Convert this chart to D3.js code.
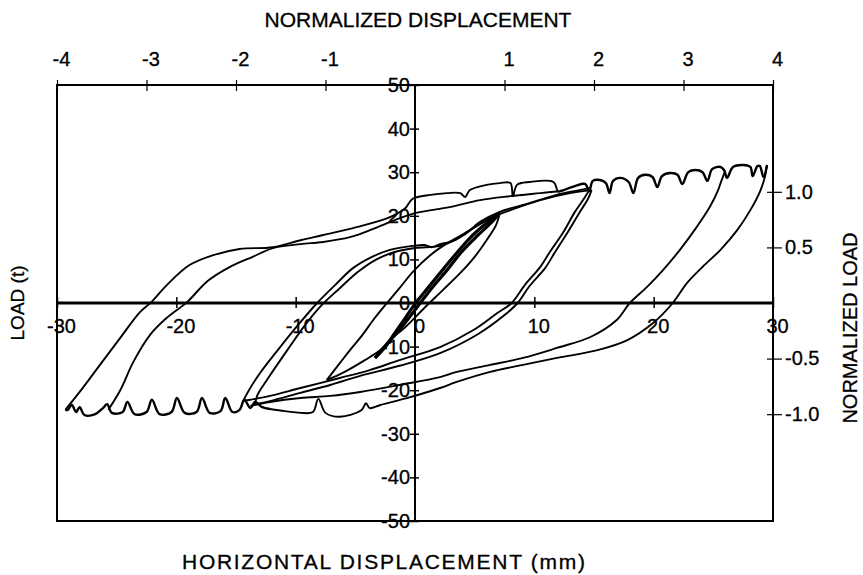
<!DOCTYPE html>
<html>
<head>
<meta charset="utf-8">
<script src="https://cdn.jsdelivr.net/npm/d3@7"></script>
<style>
  body { margin: 0; background: #fff; }
  text { font-family: "Liberation Sans", Arial, sans-serif; fill: #000; stroke: #000; stroke-width: 0.3px; }
</style>
</head>
<body>
<div id="chart"></div>
<script>
// tick values
var dispTicks = [-30, -20, -10, 0, 10, 20, 30];
var loadTicks = [50, 40, 30, 20, 10, 0, -10, -20, -30, -40, -50];
var normDispTicks = [-4, -3, -2, -1, 1, 2, 3, 4];
var normLoadTicks = [1.0, 0.5, -0.5, -1.0];
var yieldDisp = 7.5;   // mm per normalized unit
var yieldLoad = 25.5;  // t per normalized unit

// branches of the load-displacement record, [mm, t]
var riseA1 = [[-29.3,-24.5],[-28.1,-20.4],[-26.4,-14.2],[-24.7,-8.0],[-23.05,-2.1],[-22.1,0.2],[-20.8,4.1],
  [-18.9,8.7],[-16.9,11.0],[-14.7,12.4],[-11.9,12.8],[-9.6,14.4],[-7.7,15.6],[-4.9,17.4],[-2.1,19.7],
  [-0.8,21.8],[-0.2,23.9],[1.3,24.8],[2.7,25.2],[3.8,25.2],[4.2,24.3],[4.6,25.9],[6.0,27.1],[7.1,27.5],
  [8.0,27.5],[8.2,24.5],[8.55,27.1],[9.6,27.75],[11.6,27.75],[12.0,25.5],[12.3,25.9]];
var riseA2 = [[-25.7,-24.5],[-24.7,-20.0],[-23.6,-13.5],[-22.2,-7.3],[-20.8,-3.4],[-19.1,0.2],[-17.4,5.0],
  [-15.5,8.3],[-13.6,10.6],[-11.9,12.6],[-9.6,13.5],[-7.7,14.0],[-5.45,15.1],[-3.5,17.0],[-1.7,19.0],
  [0,20.6],[2.9,22.0],[5.45,23.6],[8.0,24.5],[10.5,25.2],[12.3,25.7]];
var crestA = [[12.3,25.7],[13.4,26.8],[14.25,27.3],[14.6,25.7],[14.9,28.0],[15.5,28.2],[16.0,27.5],[16.3,25.2],
  [16.6,28.0],[17.2,28.7],[17.9,27.75],[18.3,25.2],[18.7,28.7],[19.3,29.4],[19.9,28.9],[20.3,26.6],
  [20.7,29.1],[21.4,29.8],[22.0,29.4],[22.4,27.3],[22.9,30.0],[23.5,30.5],[24.1,30.0],[24.5,28.0],
  [24.9,30.7],[25.6,31.2],[25.9,30.5],[26.15,28.7],[26.65,31.2],[27.5,31.65],[28.1,31.2],[28.3,29.1],
  [28.7,31.4],[28.9,31.4],[29.2,28.9],[29.5,31.65]];
var fallA1 = [[26.0,30.3],[25.7,28.2],[25.4,25.9],[24.7,22.0],[23.6,17.4],[22.2,12.2],[20.8,7.6],[19.45,3.7],
  [18.0,0],[16.9,-3.9],[14.7,-7.8],[11.9,-10.3],[9.05,-12.6],[6.3,-14.2],[3.5,-15.8],[2.1,-17.0],
  [-1.3,-18.8],[-4.6,-20.4],[-7.1,-21.3],[-9.6,-21.8],[-12.15,-22.7],[-13.8,-23.6]];
var fallA2 = [[29.5,31.65],[29.3,28.7],[28.9,25.5],[28.1,21.3],[27.0,16.7],[25.6,12.2],[24.1,8.3],[22.8,4.6],
  [21.6,0],[19.95,-4.6],[17.8,-8.5],[15.3,-10.8],[11.9,-12.6],[9.05,-14.2],[6.3,-15.8],[3.5,-18.1],
  [2.1,-19.5],[-0.4,-21.6],[-2.9,-23.4],[-3.8,-24.1],[-4.1,-23.0],[-4.5,-24.6],[-6.3,-26.1],[-7.5,-25.2],
  [-8.1,-22.0],[-8.55,-25.0],[-9.6,-25.2],[-10.9,-24.8],[-12.15,-24.3]];
var troughA = [[-12.15,-24.3],[-12.8,-23.9],[-13.4,-22.7],[-13.8,-24.1],[-14.3,-22.2],[-14.7,-24.5],[-15.3,-25.0],
  [-15.9,-21.8],[-16.3,-24.8],[-17.2,-25.2],[-17.85,-21.8],[-18.3,-25.0],[-19.3,-25.2],[-19.95,-21.8],
  [-20.4,-25.0],[-21.4,-25.5],[-22.05,-22.2],[-22.5,-25.0],[-23.5,-25.5],[-24.1,-22.7],[-24.5,-25.0],
  [-25.4,-25.2],[-25.8,-23.2],[-26.15,-24.1],[-26.8,-25.5],[-27.7,-25.7],[-28.1,-23.9],[-28.4,-25.0],
  [-28.75,-23.4],[-29.1,-24.5],[-29.3,-24.5]];
var riseB1 = [[-14.4,-22.5],[-14.0,-20.4],[-13.0,-16.1],[-11.3,-10.1],[-9.6,-4.4],[-8.2,0],[-6.7,4.1],
  [-5.2,8.0],[-3.6,10.6],[-2.1,12.2],[-0.2,13.1],[0.8,13.3],[1.4,12.8],[2.1,13.5],[2.9,14.0],[4.2,15.8],
  [5.45,18.6],[7.1,20.9],[9.6,22.9],[12.15,25.0],[13.8,25.9],[14.7,26.4]];
var riseB2 = [[-13.4,-23.2],[-13.2,-21.1],[-12.3,-17.2],[-10.7,-10.8],[-9.2,-5.0],[-7.9,-0.7],[-6.3,3.4],
  [-4.8,7.1],[-3.3,9.9],[-1.7,11.7],[0,12.6],[2.1,13.1],[3.35,14.4],[4.6,16.7],[6.3,19.5],[8.0,21.3],
  [10.5,23.6],[13.0,25.2],[14.8,25.9]];
var fallB1 = [[14.7,26.4],[14.25,24.3],[13.4,20.9],[12.4,16.1],[11.3,11.7],[10.5,8.3],[9.2,4.1],[8.1,0],
  [6.9,-2.3],[4.9,-6.2],[2.1,-10.1],[-1.3,-13.1],[-3.8,-15.4],[-6.3,-17.2],[-9.6,-19.5],[-12.15,-21.3],
  [-13.8,-22.2],[-14.4,-22.5]];
var fallB2 = [[14.8,25.9],[14.5,23.9],[13.75,20.6],[12.7,15.8],[11.7,11.5],[10.9,8.0],[9.6,3.9],[8.6,0],
  [7.4,-3.0],[5.3,-7.1],[2.1,-11.5],[-1.3,-14.4],[-4.6,-16.7],[-7.1,-18.8],[-9.6,-20.6],[-12.15,-22.5],
  [-13.4,-23.2]];
var riseC = [[-7.4,-17.7],[-6.3,-13.8],[-5.45,-10.8],[-4.4,-7.3],[-3.5,-3.9],[-2.35,0],[-1.3,3.4],[-0.2,7.1],
  [1.3,11.0],[2.35,13.1],[3.8,15.4],[5.45,18.1],[7.1,20.6]];
var fallC = [[7.1,20.6],[6.8,17.9],[6.0,14.4],[5.0,10.6],[3.8,6.9],[2.35,3.0],[0.8,-1.1],[-0.8,-5.5],
  [-2.1,-8.5],[-2.9,-10.8],[-4.2,-13.1],[-5.9,-15.8],[-7.4,-17.7]];
var elasticUp = [[-3.35,-12.6],[-2.5,-10.1],[-1.7,-6.9],[-0.8,-3.4],[0,-0.2],[1.0,3.2],[2.1,6.9],[3.35,11.0],
  [4.6,14.9],[5.9,18.1],[7.1,20.6]];
var elasticDown = [[7.1,20.6],[6.45,18.6],[5.3,15.6],[3.9,11.7],[2.7,7.6],[1.4,3.4],[0.25,-0.7],[-0.9,-4.8],
  [-1.9,-8.0],[-2.8,-10.8],[-3.35,-12.6]];

var margin = {top: 85, right: 90, bottom: 54, left: 57},
    width = 863 - margin.left - margin.right,
    height = 575 - margin.top - margin.bottom;

var root = d3.select("#chart").append("svg")
    .attr("width", 863)
    .attr("height", 575);
var svg = root.append("g")
    .attr("transform", "translate(" + margin.left + "," + margin.top + ")");

var x = d3.scaleLinear().domain([-30, 30]).range([0, width]);
var y = d3.scaleLinear().domain([-50, 50]).range([height, 0]);
var xn = d3.scaleLinear().domain([-30 / yieldDisp, 30 / yieldDisp]).range([0, width]);
var yn = d3.scaleLinear().domain([-50 / yieldLoad, 50 / yieldLoad]).range([height, 0]);

var fontFam = '"Liberation Sans", Arial, sans-serif';

// frame
svg.append("rect")
    .attr("width", width).attr("height", height)
    .attr("fill", "none").attr("stroke", "#000").attr("stroke-width", 2);

// curves
var line = d3.line()
    .x(function(d) { return x(d[0]); })
    .y(function(d) { return y(d[1]); })
    .curve(d3.curveCatmullRom.alpha(0.5));

var thin = [riseA1, riseA2, fallA1, fallA2, riseB1, riseB2, fallB1, fallB2, riseC, fallC];
svg.append("g").selectAll("path").data(thin).enter().append("path")
    .attr("d", line).attr("fill", "none").attr("stroke", "#000").attr("stroke-width", 1.9);
svg.append("g").selectAll("path").data([crestA, troughA]).enter().append("path")
    .attr("d", line).attr("fill", "none").attr("stroke", "#000").attr("stroke-width", 2.4)
    .attr("stroke-linejoin", "round");
svg.append("g").selectAll("path").data([elasticUp, elasticDown]).enter().append("path")
    .attr("d", line).attr("fill", "none").attr("stroke", "#000").attr("stroke-width", 3.2);

// zero lines
svg.append("line").attr("x1", 0).attr("x2", width).attr("y1", y(0)).attr("y2", y(0))
    .attr("stroke", "#000").attr("stroke-width", 3);
svg.append("line").attr("x1", x(0)).attr("x2", x(0)).attr("y1", 0).attr("y2", height)
    .attr("stroke", "#000").attr("stroke-width", 2);

// bottom (mm) axis along load = 0
var gx = svg.append("g").attr("transform", "translate(0," + y(0) + ")")
    .call(d3.axisBottom(x).tickValues(dispTicks).tickSize(0).tickFormat(function(d) { return String(d); }))
    .attr("font-size", 20).attr("font-family", fontFam);
gx.select(".domain").remove();
gx.selectAll(".tick line").attr("y1", -6).attr("y2", 5).attr("stroke-width", 1.5);
gx.selectAll(".tick text").attr("dy", null).attr("y", 30).attr("dx", 4);

// load axis along displacement = 0
var gy = svg.append("g").attr("transform", "translate(" + x(0) + ",0)")
    .call(d3.axisLeft(y).tickValues(loadTicks).tickSize(5).tickFormat(function(d) { return String(d); }))
    .attr("font-size", 20).attr("font-family", fontFam);
gy.select(".domain").remove();
gy.selectAll(".tick line").attr("x1", 4).attr("stroke-width", 1.5);
gy.selectAll(".tick text").attr("x", -5);

// top normalized displacement axis
var gt = svg.append("g")
    .call(d3.axisTop(xn).tickValues(normDispTicks).tickSize(0).tickFormat(function(d) { return String(d); }))
    .attr("font-size", 20).attr("font-family", fontFam);
gt.select(".domain").remove();
gt.selectAll(".tick line").attr("y1", -5).attr("y2", 6).attr("stroke-width", 1.2);
gt.selectAll(".tick text").attr("y", -19).attr("dy", null).attr("dx", 4);

// right normalized load axis
var gr = svg.append("g").attr("transform", "translate(" + width + ",0)")
    .call(d3.axisRight(yn).tickValues(normLoadTicks).tickSize(9).tickFormat(function(d) { return d.toFixed(1); }))
    .attr("font-size", 20).attr("font-family", fontFam);
gr.select(".domain").remove();
gr.selectAll(".tick line").attr("x1", -6).attr("stroke-width", 1.2);
gr.selectAll(".tick text").attr("x", 12);

// titles
root.append("text").attr("x", 418).attr("y", 27).attr("text-anchor", "middle")
    .attr("font-size", 21).text("NORMALIZED DISPLACEMENT");
root.append("text").attr("x", 182).attr("y", 569)
    .attr("font-size", 21).attr("textLength", 403).attr("lengthAdjust", "spacing")
    .text("HORIZONTAL DISPLACEMENT  (mm)");
root.append("text").attr("transform", "translate(24,303) rotate(-90)").attr("text-anchor", "middle")
    .attr("font-size", 19).text("LOAD  (t)");
root.append("text").attr("transform", "translate(857,328) rotate(-90)").attr("text-anchor", "middle")
    .attr("font-size", 20).text("NORMALIZED LOAD");
</script>
</body>
</html>
